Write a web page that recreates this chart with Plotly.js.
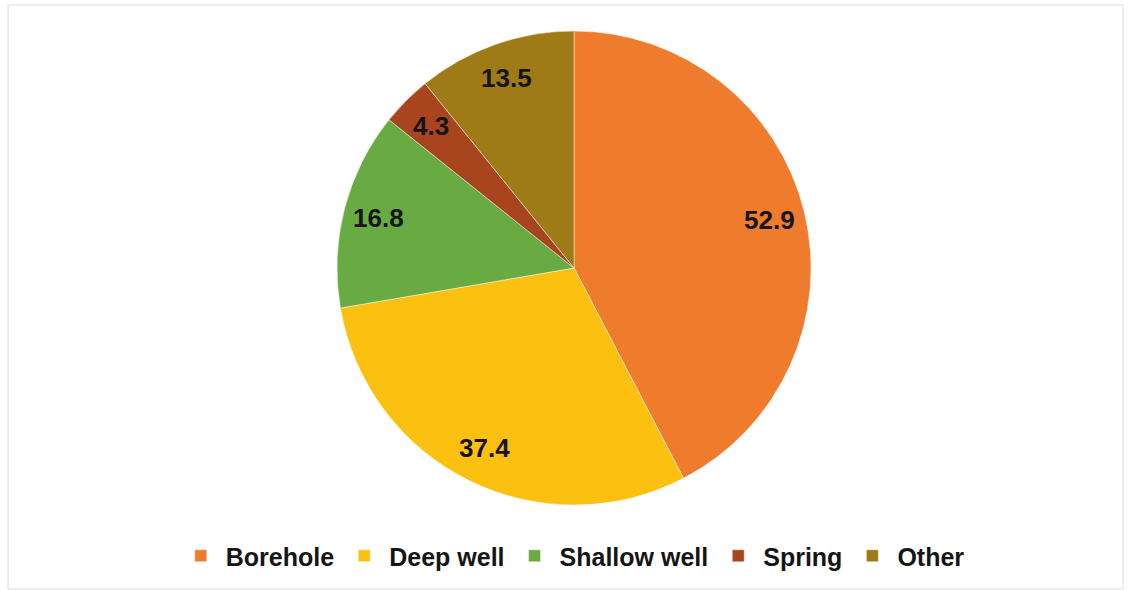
<!DOCTYPE html>
<html>
<head>
<meta charset="utf-8">
<script src="https://cdn.plot.ly/plotly-3.0.1.min.js"></script>
<style>
  html, body { margin: 0; padding: 0; background: #ffffff; }
  #chart { width: 1132px; height: 590px; }
</style>
</head>
<body>
<div id="chart"></div>
<script>
// Water source shares
const sources = ["Borehole", "Deep well", "Shallow well", "Spring", "Other"];
const shares = [52.9, 37.4, 16.8, 4.3, 13.5];
const sliceColors = ["#EF7B2C", "#FCC010", "#68AB42", "#A8451F", "#9E7B16"];

const W = 1132, H = 590;
// pie geometry in pixels
const cx = 574, cy = 268, R = 237;
const labelFrac = 0.85;
const font = "Liberation Sans, Arial, sans-serif";

// value labels placed along each slice's mid-angle (clockwise from 12 o'clock)
const total = shares.reduce((a, b) => a + b, 0);
let cum = 0;
const annotations = shares.map((v) => {
  const mid = (cum + v / 2) / total * 2 * Math.PI;
  cum += v;
  const px = cx + labelFrac * R * Math.sin(mid);
  const py = cy - labelFrac * R * Math.cos(mid);
  return {
    xref: "paper", yref: "paper",
    x: px / W, y: (H - py) / H,
    xanchor: "center", yanchor: "middle",
    text: v.toFixed(1), showarrow: false,
    font: { family: font, size: 26, color: "#151515", weight: "bold" }
  };
});

const trace = {
  type: "pie",
  labels: sources,
  values: shares,
  sort: false,
  direction: "clockwise",
  rotation: 0,
  textinfo: "none",
  hoverinfo: "label+value",
  marker: { colors: sliceColors, line: { color: "rgba(255,255,255,0.45)", width: 1 } },
  domain: {
    x: [(cx - R) / W, (cx + R) / W],
    y: [(H - cy - R) / H, (H - cy + R) / H]
  }
};

const layout = {
  width: W, height: H,
  margin: { l: 0, r: 0, t: 0, b: 0 },
  paper_bgcolor: "#ffffff",
  showlegend: true,
  legend: {
    orientation: "h",
    x: 0.506, xanchor: "center",
    y: (H - 556) / H, yanchor: "middle",
    itemwidth: 40,
    font: { family: font, size: 25, color: "#151515", weight: "bold" },
    itemclick: false, itemdoubleclick: false
  },
  annotations: annotations,
  shapes: [{
    type: "rect", xref: "paper", yref: "paper",
    x0: 8 / W, x1: 1123 / W, y0: 1 / H, y1: (H - 5) / H,
    line: { color: "#DCDCDC", width: 1 }, fillcolor: "rgba(0,0,0,0)"
  }]
};

Plotly.newPlot("chart", [trace], layout, { displayModeBar: false, staticPlot: true });
</script>
</body>
</html>
